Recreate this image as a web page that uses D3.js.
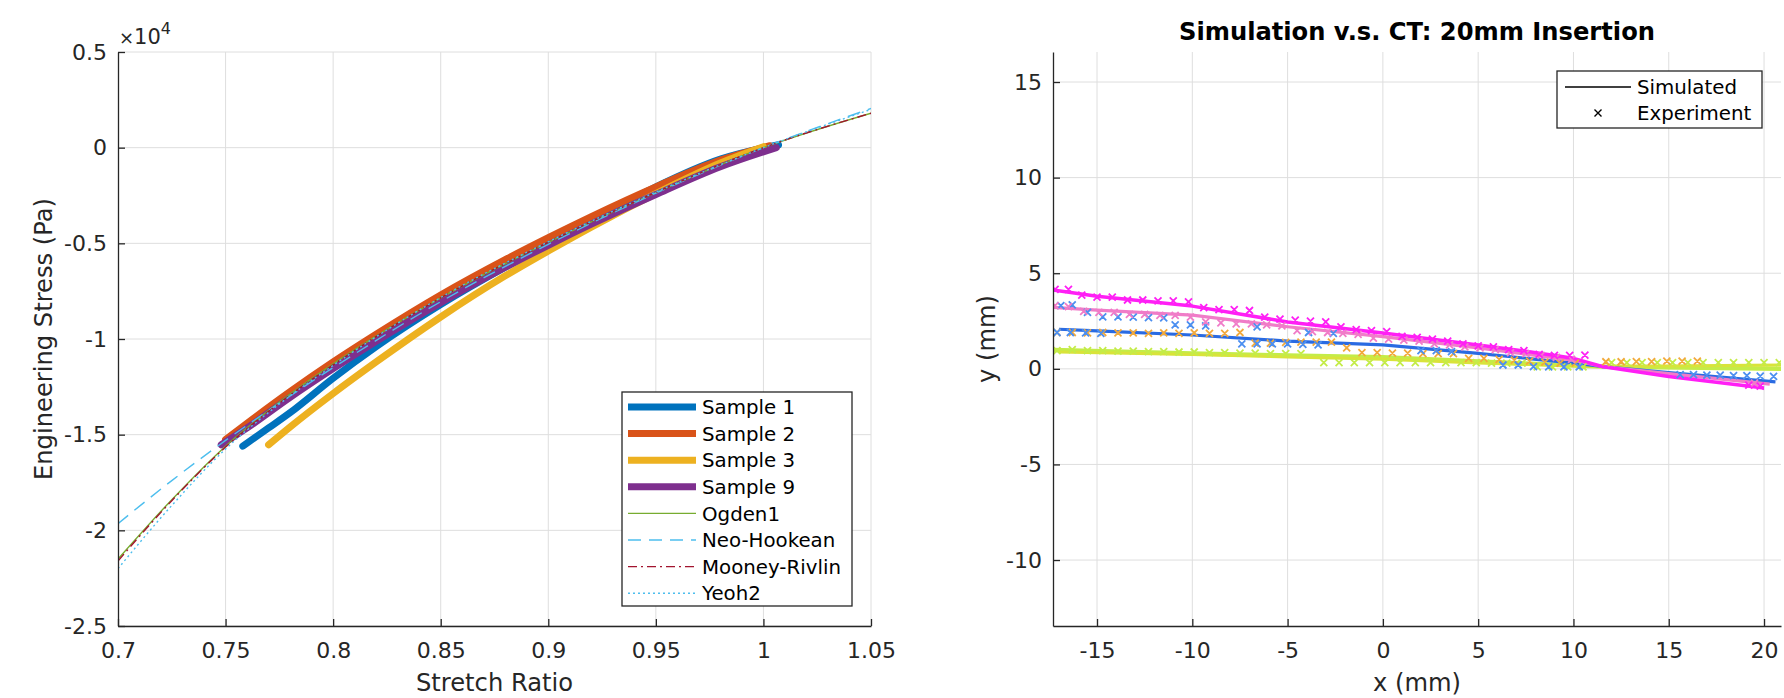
<!DOCTYPE html>
<html><head><meta charset="utf-8">
<script src="https://cdn.jsdelivr.net/npm/d3@7"></script>
<style>
body{margin:0;background:#fff;}
svg{display:block;font-family:"DejaVu Sans",sans-serif;}
</style>
</head><body>
<svg id="c" width="1784" height="698"></svg>
<script>
// ---------------- LEFT CHART DATA ----------------
const stretchTicks = [0.7,0.75,0.8,0.85,0.9,0.95,1,1.05];
const stretchTickLabels = ["0.7","0.75","0.8","0.85","0.9","0.95","1","1.05"];
const stressTicks = [0.5,0,-0.5,-1,-1.5,-2,-2.5];           // x 10^4 Pa
const stressTickLabels = ["0.5","0","-0.5","-1","-1.5","-2","-2.5"];

const sampleNames = ["Sample 1","Sample 2","Sample 3","Sample 9"];
const sampleColors = ["#0072BD","#D95319","#EDB120","#7E2F8E"];
const sample1 = [[0.758,-1.56],[0.77,-1.465],[0.78,-1.385],[0.80,-1.205],[0.82,-1.04],[0.85,-0.82],[0.88,-0.625],[0.90,-0.505],[0.92,-0.385],[0.95,-0.205],[0.98,-0.06],[1.007,0.015]];
const sample2 = [[0.75,-1.525],[0.76,-1.44],[0.78,-1.275],[0.80,-1.12],[0.82,-0.975],[0.85,-0.77],[0.88,-0.585],[0.90,-0.47],[0.92,-0.36],[0.95,-0.205],[0.98,-0.065],[1.003,0.01]];
const sample3 = [[0.770,-1.553],[0.78,-1.46],[0.80,-1.285],[0.82,-1.12],[0.85,-0.885],[0.88,-0.67],[0.90,-0.54],[0.92,-0.415],[0.95,-0.24],[0.98,-0.08],[1.0,0.005]];
const sample9 = [[0.748,-1.553],[0.76,-1.465],[0.78,-1.305],[0.80,-1.155],[0.82,-1.012],[0.85,-0.81],[0.88,-0.625],[0.90,-0.51],[0.92,-0.40],[0.95,-0.245],[0.98,-0.10],[1.006,0.0]];

const modelNames = ["Ogden1","Neo-Hookean","Mooney-Rivlin","Yeoh2"];
const modelColors = ["#77AC30","#4DBEEE","#A2142F","#4DBEEE"];
const modelDash = ["none","13,8","9,4,2,4","2,3"];
const ogden1 = [[0.70,-2.15],[0.725,-1.84],[0.75,-1.56],[0.775,-1.33],[0.80,-1.13],[0.85,-0.785],[0.90,-0.495],[0.95,-0.235],[1.0,0.0],[1.05,0.18]];
const neoHookean = [[0.70,-1.965],[0.725,-1.74],[0.75,-1.53],[0.775,-1.335],[0.80,-1.15],[0.85,-0.805],[0.90,-0.505],[0.95,-0.238],[1.0,0.0],[1.05,0.205]];
const mooneyRivlin = [[0.70,-2.16],[0.725,-1.845],[0.75,-1.565],[0.775,-1.335],[0.80,-1.135],[0.85,-0.785],[0.90,-0.495],[0.95,-0.234],[1.0,0.0],[1.05,0.18]];
const yeoh2 = [[0.70,-2.2],[0.725,-1.87],[0.75,-1.575],[0.775,-1.34],[0.80,-1.138],[0.85,-0.783],[0.90,-0.492],[0.95,-0.232],[1.0,0.0],[1.05,0.2]];

// ---------------- RIGHT CHART DATA ----------------
const xmmTicks = [-15,-10,-5,0,5,10,15,20];
const ymmTicks = [-10,-5,0,5,10,15];
const simColors = ["#C4EC48","#D9E33A","#2A6BE2","#F07CC8","#FF1FF5"];
const simYellowGreen = [[-17.3,0.98],[-10,0.8],[-5,0.7],[0,0.6],[5,0.38],[10,0.18],[11.5,0.12],[20.9,0.0]];
const simYellow = [[-17.0,0.88],[-10,0.75],[-5,0.62],[0,0.5],[5,0.3],[11.5,0.12],[20.9,0.2]];
const simBlue = [[-17.0,2.07],[-15,1.99],[-10,1.77],[-5,1.45],[0,1.25],[5,0.81],[10,0.3],[11.5,0.12],[15,-0.2],[20.6,-0.68]];
const simPink = [[-17.3,3.21],[-15,3.07],[-10,2.81],[-5,2.2],[0,1.68],[5,1.09],[10,0.45],[11.5,0.12],[15,-0.25],[20.3,-0.8]];
const simMagenta = [[-17.3,4.12],[-15,3.8],[-10,3.28],[-5,2.45],[0,1.87],[5,1.25],[7.5,0.92],[10,0.55],[11.5,0.12],[15,-0.4],[20,-1.0]];

const expColors = ["#C4EC48","#F2A93B","#4C8FF0","#F07CC8","#FF1FF5"];
const expYellowGreen = [[-17.1,0.95],[-16.3,1.0],[-15.5,0.95],[-14.7,0.95],[-13.9,0.92],[-13.1,0.92],[-12.3,0.9],[-11.5,0.9],[-10.7,0.88],[-9.9,0.88],[-9.1,0.85],[-8.3,0.85],[-7.5,0.82],[-6.7,0.82],[-5.9,0.8],[-5.1,0.8],[-4.3,0.8],[-3.1,0.32],[-2.3,0.32],[-1.5,0.32],[-0.7,0.32],[0.1,0.32],[0.9,0.32],[1.7,0.32],[2.5,0.32],[3.3,0.32],[4.1,0.32],[4.9,0.32],[5.7,0.3],[6.5,0.3],[7.3,0.3],[8.1,0.1],[8.9,0.1],[9.7,0.1],[10.5,0.1],[12.0,0.32],[12.8,0.32],[13.6,0.32],[14.4,0.32],[15.2,0.32],[16.0,0.32],[16.8,0.32],[17.6,0.32],[18.4,0.32],[19.2,0.32],[20.0,0.32],[20.8,0.32]];
const expOrange = [[-17.1,1.9],[-16.3,1.9],[-15.5,1.88],[-14.7,1.9],[-13.9,1.88],[-13.1,1.88],[-12.3,1.85],[-11.5,1.88],[-10.7,1.85],[-9.9,1.88],[-9.1,1.85],[-8.3,1.85],[-7.5,1.9],[-6.7,1.35],[-5.9,1.35],[-5.1,1.38],[-4.3,1.4],[-3.5,1.4],[-2.7,1.4],[-1.9,1.1],[-1.1,0.85],[-0.3,0.85],[0.5,0.82],[1.3,0.82],[2.1,0.8],[2.9,0.8],[3.7,0.8],[4.5,0.55],[5.3,0.55],[6.1,0.5],[6.9,0.45],[7.7,0.4],[8.5,0.35],[9.3,0.3],[10.1,0.3],[11.7,0.37],[12.5,0.37],[13.3,0.38],[14.1,0.38],[14.9,0.4],[15.7,0.4],[16.5,0.4]];
const expBlue = [[-16.9,3.3],[-16.3,3.35],[-15.5,2.95],[-14.7,2.72],[-13.9,2.72],[-13.1,2.7],[-12.3,2.68],[-11.5,2.66],[-10.9,2.3],[-10.1,2.3],[-9.3,2.25],[-6.6,2.2],[-3.9,1.9],[-2.6,1.85],[-17.1,1.9],[-16.4,1.9],[-15.6,1.88],[-14.8,1.85],[-7.4,1.3],[-6.6,1.3],[-5.8,1.3],[-5.0,1.3],[-4.2,1.28],[-3.4,1.25],[2.0,0.95],[2.8,0.95],[3.6,0.9],[6.3,0.2],[7.1,0.2],[7.9,0.12],[8.7,0.1],[9.5,0.1],[10.3,0.1],[15.6,-0.3],[16.3,-0.3],[17.0,-0.33],[17.7,-0.33],[18.4,-0.35],[19.1,-0.35],[19.8,-0.38],[20.5,-0.4]];
const expPink = [[-17.2,3.3],[-16.5,3.25],[-15.7,3.0],[-14.9,2.95],[-14.1,2.95],[-13.3,2.85],[-12.5,2.85],[-11.7,2.8],[-10.9,2.8],[-10.1,2.7],[-9.3,2.45],[-8.5,2.4],[-7.7,2.35],[-6.9,2.35],[-6.1,2.3],[-5.3,2.25],[-4.5,2.0],[-3.7,1.95],[-2.9,1.9],[-2.1,1.85],[-1.3,1.8],[-0.5,1.6],[0.3,1.55],[1.1,1.5],[1.9,1.45],[2.7,1.3],[3.5,1.25],[4.3,1.15],[5.1,1.1],[5.9,1.0],[6.7,0.85],[7.5,0.8],[8.3,0.7],[9.1,0.6],[9.9,0.5],[19.5,-0.75]];
const expMagenta = [[-17.2,4.15],[-16.5,4.15],[-15.8,3.85],[-15.0,3.75],[-14.2,3.75],[-13.4,3.6],[-12.6,3.6],[-11.8,3.55],[-11.0,3.55],[-10.2,3.5],[-9.4,3.2],[-8.6,3.1],[-7.8,3.1],[-7.0,3.05],[-6.2,2.7],[-5.4,2.6],[-4.6,2.55],[-3.8,2.5],[-3.0,2.45],[-2.2,2.2],[-1.4,2.05],[-0.6,2.0],[0.2,1.95],[1.0,1.7],[1.8,1.65],[2.6,1.55],[3.4,1.45],[4.2,1.3],[5.0,1.2],[5.8,1.15],[6.6,1.0],[7.4,0.95],[8.2,0.75],[9.0,0.7],[9.8,0.7],[10.6,0.72],[19.2,-0.85],[19.8,-0.9]];

const legendRight = ["Simulated","Experiment"];

// ---------------- DRAW ----------------
const svg = d3.select("#c");
const AX = "#262626", GRID = "#dedede";

function drawGrid(g, x, y, xt, yt) {
  g.append("g").selectAll("line").data(xt).join("line")
    .attr("x1", d => x(d)).attr("x2", d => x(d))
    .attr("y1", y.range()[0]).attr("y2", y.range()[1])
    .attr("stroke", GRID).attr("stroke-width", 1);
  g.append("g").selectAll("line").data(yt).join("line")
    .attr("y1", d => y(d)).attr("y2", d => y(d))
    .attr("x1", x.range()[0]).attr("x2", x.range()[1])
    .attr("stroke", GRID).attr("stroke-width", 1);
}
function drawAxisLines(g, x, y, xt, xl, yt, yl) {
  const xa = g.append("g").attr("transform", `translate(0,${y.range()[0]})`)
    .call(d3.axisBottom(x).tickValues(xt).tickFormat((d,i)=>xl[i]).tickSize(-7).tickSizeOuter(0).tickPadding(16));
  const ya = g.append("g").attr("transform", `translate(${x.range()[0]},0)`)
    .call(d3.axisLeft(y).tickValues(yt).tickFormat((d,i)=>yl[i]).tickSize(-7).tickSizeOuter(0).tickPadding(11));
  [xa, ya].forEach(a => {
    a.select(".domain").attr("stroke", AX).attr("stroke-width", 1.3);
    a.selectAll(".tick line").attr("stroke", AX).attr("stroke-width", 1.3);
    a.selectAll(".tick text").attr("fill", AX).attr("font-size", 22).attr("font-family", "DejaVu Sans");
  });
}

// LEFT
const lx = d3.scaleLinear().domain([0.7, 1.05]).range([118, 871]);
const ly = d3.scaleLinear().domain([-2.5, 0.5]).range([626, 52]);
const gl = svg.append("g");
drawGrid(gl, lx, ly, stretchTicks.slice(1), stressTicks);
gl.append("clipPath").attr("id","clipL").append("rect").attr("x",118).attr("y",52).attr("width",753).attr("height",574);
const line = d3.line().x(d => lx(d[0])).y(d => ly(d[1])).curve(d3.curveMonotoneX);
const plotL = gl.append("g").attr("clip-path","url(#clipL)");
[sample1, sample2, sample3, sample9].forEach((s,i) => {
  plotL.append("path").attr("d", line(s)).attr("fill","none")
    .attr("stroke", sampleColors[i]).attr("stroke-width", 7)
    .attr("stroke-linecap","round").attr("stroke-linejoin","round");
});
[ogden1, neoHookean, mooneyRivlin, yeoh2].forEach((s,i) => {
  plotL.append("path").attr("d", line(s)).attr("fill","none")
    .attr("stroke", modelColors[i]).attr("stroke-width", 1.4)
    .attr("stroke-dasharray", modelDash[i]);
});
drawAxisLines(gl, lx, ly, stretchTicks, stretchTickLabels, stressTicks, stressTickLabels);
const ex = gl.append("text").attr("x", 119).attr("y", 44).attr("fill", AX);
ex.append("tspan").attr("font-size", 18).text("\u00d7");
ex.append("tspan").attr("font-size", 21).text("10");
ex.append("tspan").attr("font-size", 16).attr("dy", -10).text("4");
gl.append("text").attr("x", 494.5).attr("y", 691).attr("text-anchor","middle")
  .attr("font-size", 24.2).attr("fill", AX).text("Stretch Ratio");
gl.append("text").attr("transform","translate(52,339) rotate(-90)").attr("text-anchor","middle")
  .attr("font-size", 24.2).attr("fill", AX).text("Engineering Stress (Pa)");
const lg = gl.append("g");
lg.append("rect").attr("x", 622).attr("y", 392).attr("width", 230).attr("height", 214)
  .attr("fill","#fff").attr("stroke", AX).attr("stroke-width", 1.3);
const legItems = sampleNames.map((n,i)=>({n, c:sampleColors[i], w:7, dash:"none"}))
  .concat(modelNames.map((n,i)=>({n, c:modelColors[i], w:1.4, dash:modelDash[i]})));
legItems.forEach((it,i) => {
  const yy = 407 + i*26.6;
  lg.append("line").attr("x1",628).attr("x2",696).attr("y1",yy).attr("y2",yy)
    .attr("stroke", it.c).attr("stroke-width", it.w).attr("stroke-dasharray", it.dash);
  lg.append("text").attr("x",702).attr("y",yy).attr("dy","0.36em")
    .attr("font-size",19.8).attr("fill","#000").text(it.n);
});

// RIGHT
const rx = d3.scaleLinear().domain([-17.31, 20.89]).range([1053, 1781]);
const ry = d3.scaleLinear().domain([-13.45, 16.57]).range([626, 52]);
const gr = svg.append("g");
drawGrid(gr, rx, ry, xmmTicks, ymmTicks);
gr.append("clipPath").attr("id","clipR").append("rect").attr("x",1053).attr("y",52).attr("width",728).attr("height",574);
const plotR = gr.append("g").attr("clip-path","url(#clipR)");
const rline = d3.line().x(d => rx(d[0])).y(d => ry(d[1]));
const simWidths = [4.5, 3, 3.2, 3.2, 3.5];
[simYellowGreen, simYellow, simBlue, simPink, simMagenta].forEach((s,i) => {
  plotR.append("path").attr("d", rline(s)).attr("fill","none")
    .attr("stroke", simColors[i]).attr("stroke-width", simWidths[i]).attr("stroke-linejoin","round");
});
const xMark = (d, s) => { const X = rx(d[0]), Y = ry(d[1]);
  return `M${X-s},${Y-s}L${X+s},${Y+s}M${X-s},${Y+s}L${X+s},${Y-s}`; };
[expYellowGreen, expOrange, expBlue, expPink, expMagenta].forEach((s,i) => {
  plotR.append("path").attr("d", s.map(d => xMark(d, 3.5)).join(""))
    .attr("fill","none").attr("stroke", expColors[i]).attr("stroke-width", 1.8);
});
drawAxisLines(gr, rx, ry, xmmTicks, xmmTicks.map(String), ymmTicks, ymmTicks.map(String));
gr.append("text").attr("x", 1417).attr("y", 691).attr("text-anchor","middle")
  .attr("font-size", 24.2).attr("fill", AX).text("x (mm)");
gr.append("text").attr("transform","translate(995,339) rotate(-90)").attr("text-anchor","middle")
  .attr("font-size", 24.2).attr("fill", AX).text("y (mm)");
gr.append("text").attr("x", 1417).attr("y", 40).attr("text-anchor","middle")
  .attr("font-size", 24.2).attr("font-weight","bold").attr("fill","#000")
  .text("Simulation v.s. CT: 20mm Insertion");
const rg = gr.append("g");
rg.append("rect").attr("x",1557).attr("y",71).attr("width",205).attr("height",57)
  .attr("fill","#fff").attr("stroke", AX).attr("stroke-width", 1.3);
rg.append("line").attr("x1",1565).attr("x2",1631).attr("y1",87).attr("y2",87)
  .attr("stroke","#000").attr("stroke-width",1.4);
rg.append("path").attr("d", `M1594.5,109.5L1601.5,116.5M1594.5,116.5L1601.5,109.5`)
  .attr("stroke","#000").attr("stroke-width",1.4);
legendRight.forEach((t,i) => {
  rg.append("text").attr("x",1637).attr("y",87 + i*26).attr("dy","0.36em")
    .attr("font-size",19.8).attr("fill","#000").text(t);
});
</script>
</body></html>
